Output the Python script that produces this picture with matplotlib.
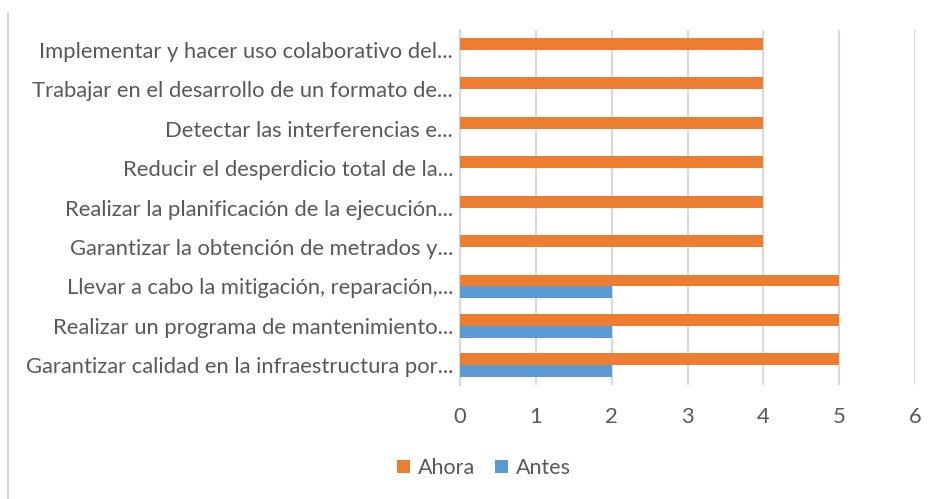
import matplotlib.pyplot as plt
import numpy as np
from matplotlib.lines import Line2D

# categories from bottom to top
categorias = [
    "Garantizar calidad en la infraestructura por...",
    "Realizar un programa de mantenimiento...",
    "Llevar a cabo la mitigación, reparación,...",
    "Garantizar la obtención de metrados y...",
    "Realizar la planificación de la ejecución...",
    "Reducir el desperdicio total de la...",
    "Detectar las interferencias e...",
    "Trabajar en el desarrollo de un formato de...",
    "Implementar y hacer uso colaborativo del...",
]
ahora = [5, 5, 5, 4, 4, 4, 4, 4, 4]
antes = [2, 2, 2, 0, 0, 0, 0, 0, 0]
ticks_x = [0, 1, 2, 3, 4, 5, 6]

naranja = "#ED7D31"
azul = "#5B9BD5"
gris_texto = "#595959"

plt.rcParams['font.family'] = ['Lato', 'DejaVu Sans']

fig = plt.figure(figsize=(9.36, 4.99), dpi=100)
ax = fig.add_axes([460 / 936, 1 - 385 / 499, 455 / 936, 355 / 499])

y = np.arange(len(categorias))
h = 0.3
ax.barh(y + h / 2, ahora, height=h, color=naranja, label="Ahora", zorder=3)
ax.barh(y - h / 2, antes, height=h, color=azul, label="Antes", zorder=3)

ax.set_xlim(0, 6)
ax.set_ylim(-0.5, len(categorias) - 0.5)
ax.set_xticks(ticks_x)
ax.set_yticks(y)
ax.set_yticklabels(categorias)
ax.xaxis.grid(True, color="#d9d9d9", linewidth=1.5, zorder=0)

for s in ["top", "right", "bottom"]:
    ax.spines[s].set_visible(False)
ax.spines["left"].set_color("#d9d9d9")
ax.spines["left"].set_linewidth(1.5)
ax.tick_params(axis="both", length=0, colors=gris_texto, labelsize=15.8)
ax.tick_params(axis="x", pad=16)
ax.tick_params(axis="y", pad=5)

# left border of the chart frame
fig.add_artist(Line2D([8 / 936, 8 / 936], [0, 1 - 14 / 499],
                      color="#d9d9d9", linewidth=1.5))

fig.legend(loc="center", bbox_to_anchor=(484 / 936, 1 - 468 / 499), ncol=2,
           frameon=False, fontsize=15.5, labelcolor=gris_texto,
           handlelength=0.6, handleheight=0.6, handletextpad=0.4,
           columnspacing=0.9)

fig.savefig("out.png", dpi=100)
